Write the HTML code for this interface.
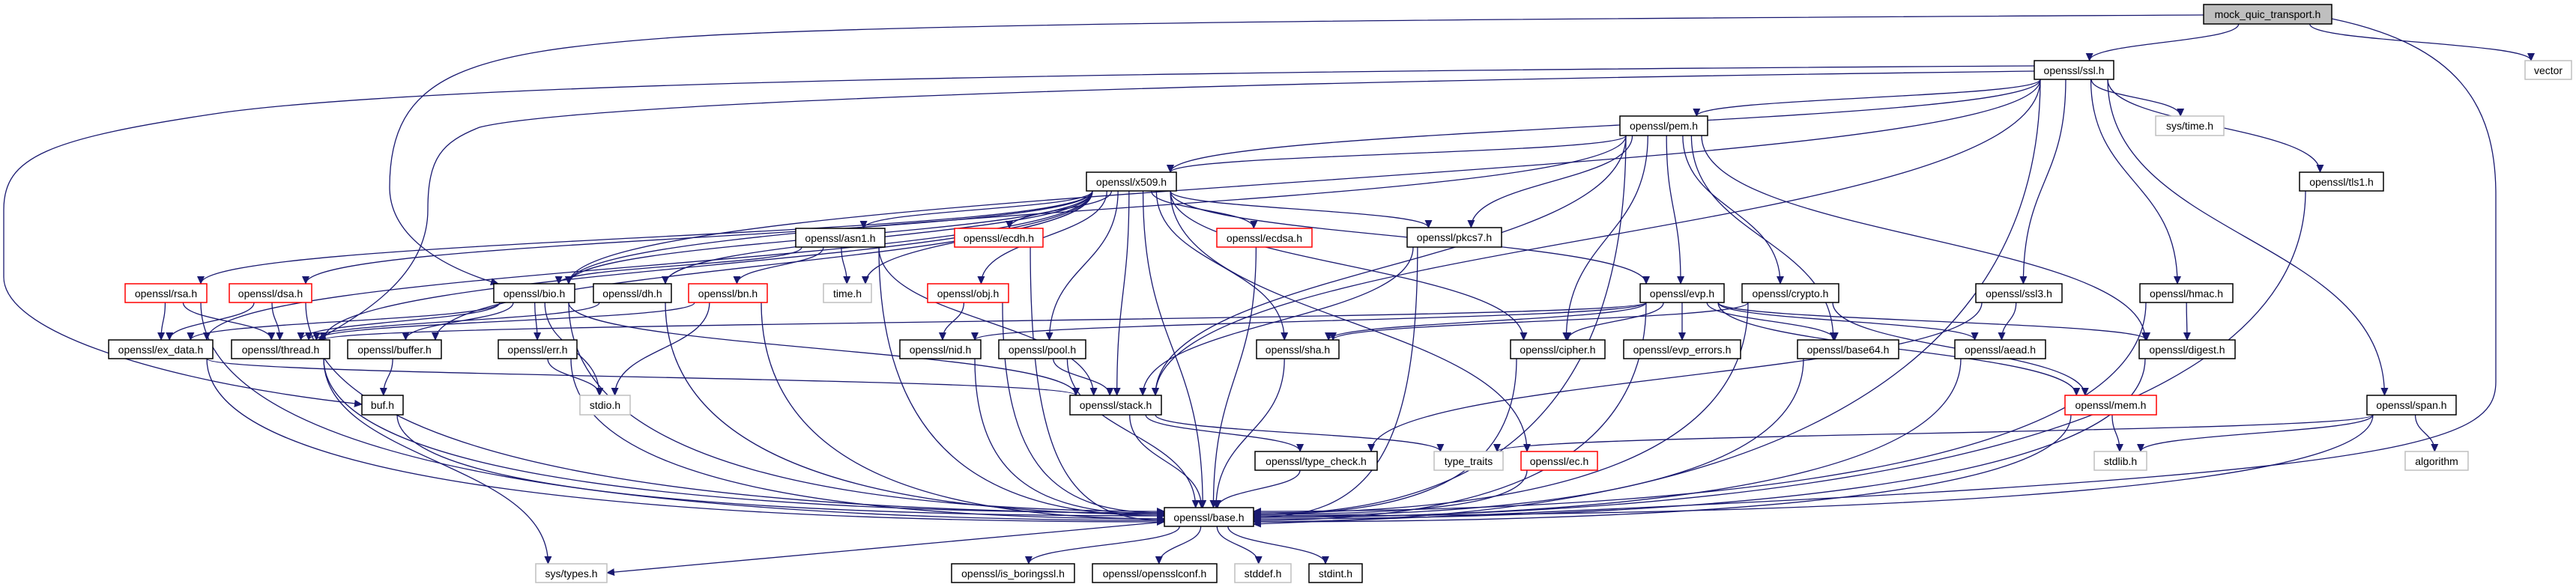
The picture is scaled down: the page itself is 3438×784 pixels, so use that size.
<!DOCTYPE html>
<html><head><meta charset="utf-8"><style>
html,body{margin:0;padding:0;background:#fff;}
svg{display:block;}
text{font-family:"Liberation Sans",sans-serif;font-size:14px;fill:#000;}
</style></head><body>
<svg id="g" width="3438" height="784" viewBox="0 0 3438 784" xmlns="http://www.w3.org/2000/svg">
<defs><marker id="ah" markerWidth="11" markerHeight="10" refX="10" refY="5" orient="auto" markerUnits="userSpaceOnUse"><path d="M0,0 L11,5 L0,10 z" fill="#191970"/></marker></defs>
<g id="edges" fill="none" stroke="#191970" stroke-width="1.3"></g>
<g id="nodes" stroke-width="1.5">
<rect x="2941" y="6" width="171" height="26" fill="#bfbfbf" stroke="#000"/><text x="3026.5" y="24" text-anchor="middle">mock_quic_transport.h</text>
<rect x="2715" y="81" width="106" height="25" fill="#fff" stroke="#000"/><text x="2768" y="99" text-anchor="middle">openssl/ssl.h</text>
<rect x="3370" y="81" width="62" height="25" fill="#fff" stroke="#bfbfbf"/><text x="3401" y="99" text-anchor="middle">vector</text>
<rect x="2162" y="155" width="117" height="26" fill="#fff" stroke="#000"/><text x="2220.5" y="173" text-anchor="middle">openssl/pem.h</text>
<rect x="2877" y="155" width="91" height="26" fill="#fff" stroke="#bfbfbf"/><text x="2922.5" y="173" text-anchor="middle">sys/time.h</text>
<rect x="1450" y="230" width="120" height="25" fill="#fff" stroke="#000"/><text x="1510" y="248" text-anchor="middle">openssl/x509.h</text>
<rect x="3069" y="230" width="112" height="25" fill="#fff" stroke="#000"/><text x="3125" y="248" text-anchor="middle">openssl/tls1.h</text>
<rect x="1062" y="305" width="119" height="25" fill="#fff" stroke="#000"/><text x="1121.5" y="323" text-anchor="middle">openssl/asn1.h</text>
<rect x="1274" y="305" width="118" height="25" fill="#fff" stroke="#f00"/><text x="1333" y="323" text-anchor="middle">openssl/ecdh.h</text>
<rect x="1624" y="305" width="127" height="25" fill="#fff" stroke="#f00"/><text x="1687.5" y="323" text-anchor="middle">openssl/ecdsa.h</text>
<rect x="1878" y="304" width="126" height="26" fill="#fff" stroke="#000"/><text x="1941" y="322" text-anchor="middle">openssl/pkcs7.h</text>
<rect x="167" y="379" width="109" height="25" fill="#fff" stroke="#f00"/><text x="221.5" y="397" text-anchor="middle">openssl/rsa.h</text>
<rect x="306" y="379" width="110" height="25" fill="#fff" stroke="#f00"/><text x="361" y="397" text-anchor="middle">openssl/dsa.h</text>
<rect x="659" y="379" width="108" height="25" fill="#fff" stroke="#000"/><text x="713" y="397" text-anchor="middle">openssl/bio.h</text>
<rect x="792" y="379" width="104" height="25" fill="#fff" stroke="#000"/><text x="844" y="397" text-anchor="middle">openssl/dh.h</text>
<rect x="919" y="379" width="105" height="25" fill="#fff" stroke="#f00"/><text x="971.5" y="397" text-anchor="middle">openssl/bn.h</text>
<rect x="1099" y="379" width="64" height="25" fill="#fff" stroke="#bfbfbf"/><text x="1131" y="397" text-anchor="middle">time.h</text>
<rect x="1238" y="379" width="108" height="25" fill="#fff" stroke="#f00"/><text x="1292" y="397" text-anchor="middle">openssl/obj.h</text>
<rect x="2189" y="379" width="112" height="25" fill="#fff" stroke="#000"/><text x="2245" y="397" text-anchor="middle">openssl/evp.h</text>
<rect x="2325" y="379" width="129" height="25" fill="#fff" stroke="#000"/><text x="2389.5" y="397" text-anchor="middle">openssl/crypto.h</text>
<rect x="2637" y="379" width="115" height="25" fill="#fff" stroke="#000"/><text x="2694.5" y="397" text-anchor="middle">openssl/ssl3.h</text>
<rect x="2856" y="379" width="124" height="25" fill="#fff" stroke="#000"/><text x="2918" y="397" text-anchor="middle">openssl/hmac.h</text>
<rect x="145" y="454" width="139" height="25" fill="#fff" stroke="#000"/><text x="214.5" y="472" text-anchor="middle">openssl/ex_data.h</text>
<rect x="309" y="454" width="131" height="25" fill="#fff" stroke="#000"/><text x="374.5" y="472" text-anchor="middle">openssl/thread.h</text>
<rect x="464" y="454" width="125" height="25" fill="#fff" stroke="#000"/><text x="526.5" y="472" text-anchor="middle">openssl/buffer.h</text>
<rect x="665" y="454" width="105" height="25" fill="#fff" stroke="#000"/><text x="717.5" y="472" text-anchor="middle">openssl/err.h</text>
<rect x="1201" y="454" width="108" height="25" fill="#fff" stroke="#000"/><text x="1255" y="472" text-anchor="middle">openssl/nid.h</text>
<rect x="1333" y="454" width="116" height="25" fill="#fff" stroke="#000"/><text x="1391" y="472" text-anchor="middle">openssl/pool.h</text>
<rect x="1677" y="454" width="110" height="25" fill="#fff" stroke="#000"/><text x="1732" y="472" text-anchor="middle">openssl/sha.h</text>
<rect x="2016" y="454" width="126" height="25" fill="#fff" stroke="#000"/><text x="2079" y="472" text-anchor="middle">openssl/cipher.h</text>
<rect x="2167" y="454" width="156" height="25" fill="#fff" stroke="#000"/><text x="2245" y="472" text-anchor="middle">openssl/evp_errors.h</text>
<rect x="2399" y="454" width="135" height="25" fill="#fff" stroke="#000"/><text x="2466.5" y="472" text-anchor="middle">openssl/base64.h</text>
<rect x="2609" y="454" width="121" height="25" fill="#fff" stroke="#000"/><text x="2669.5" y="472" text-anchor="middle">openssl/aead.h</text>
<rect x="2855" y="454" width="128" height="25" fill="#fff" stroke="#000"/><text x="2919" y="472" text-anchor="middle">openssl/digest.h</text>
<rect x="483" y="528" width="55" height="26" fill="#fff" stroke="#000"/><text x="510.5" y="546" text-anchor="middle">buf.h</text>
<rect x="774" y="528" width="67" height="26" fill="#fff" stroke="#bfbfbf"/><text x="807.5" y="546" text-anchor="middle">stdio.h</text>
<rect x="1428" y="528" width="122" height="26" fill="#fff" stroke="#000"/><text x="1489" y="546" text-anchor="middle">openssl/stack.h</text>
<rect x="2756" y="528" width="122" height="26" fill="#fff" stroke="#f00"/><text x="2817" y="546" text-anchor="middle">openssl/mem.h</text>
<rect x="3159" y="528" width="119" height="26" fill="#fff" stroke="#000"/><text x="3218.5" y="546" text-anchor="middle">openssl/span.h</text>
<rect x="1675" y="603" width="163" height="25" fill="#fff" stroke="#000"/><text x="1756.5" y="621" text-anchor="middle">openssl/type_check.h</text>
<rect x="1914" y="603" width="92" height="25" fill="#fff" stroke="#bfbfbf"/><text x="1960" y="621" text-anchor="middle">type_traits</text>
<rect x="2030" y="603" width="102" height="25" fill="#fff" stroke="#f00"/><text x="2081" y="621" text-anchor="middle">openssl/ec.h</text>
<rect x="2795" y="603" width="70" height="25" fill="#fff" stroke="#bfbfbf"/><text x="2830" y="621" text-anchor="middle">stdlib.h</text>
<rect x="3210" y="603" width="84" height="25" fill="#fff" stroke="#bfbfbf"/><text x="3252" y="621" text-anchor="middle">algorithm</text>
<rect x="1554" y="678" width="119" height="25" fill="#fff" stroke="#000"/><text x="1613.5" y="696" text-anchor="middle">openssl/base.h</text>
<rect x="1270" y="753" width="164" height="25" fill="#fff" stroke="#000"/><text x="1352" y="771" text-anchor="middle">openssl/is_boringssl.h</text>
<rect x="1458" y="753" width="166" height="25" fill="#fff" stroke="#000"/><text x="1541" y="771" text-anchor="middle">openssl/opensslconf.h</text>
<rect x="1648" y="753" width="75" height="25" fill="#fff" stroke="#bfbfbf"/><text x="1685.5" y="771" text-anchor="middle">stddef.h</text>
<rect x="1747" y="753" width="71" height="25" fill="#fff" stroke="#000"/><text x="1782.5" y="771" text-anchor="middle">stdint.h</text>
<rect x="715" y="753" width="95" height="25" fill="#fff" stroke="#bfbfbf"/><text x="762.5" y="771" text-anchor="middle">sys/types.h</text>
</g>
</svg>
<script>
var N={mock:[2941,3112,6,32],ssl:[2715,2821,81,106],vector:[3370,3432,81,106],pem:[2162,2279,155,181],systime:[2877,2968,155,181],x509:[1450,1570,230,255],tls1:[3069,3181,230,255],asn1:[1062,1181,305,330],ecdh:[1274,1392,305,330],ecdsa:[1624,1751,305,330],pkcs7:[1878,2004,304,330],rsa:[167,276,379,404],dsa:[306,416,379,404],bio:[659,767,379,404],dh:[792,896,379,404],bn:[919,1024,379,404],time:[1099,1163,379,404],obj:[1238,1346,379,404],evp:[2189,2301,379,404],crypto:[2325,2454,379,404],ssl3:[2637,2752,379,404],hmac:[2856,2980,379,404],exd:[145,284,454,479],thread:[309,440,454,479],buffer:[464,589,454,479],err:[665,770,454,479],nid:[1201,1309,454,479],pool:[1333,1449,454,479],sha:[1677,1787,454,479],cipher:[2016,2142,454,479],evperr:[2167,2323,454,479],b64:[2399,2534,454,479],aead:[2609,2730,454,479],digest:[2855,2983,454,479],buf:[483,538,528,554],stdio:[774,841,528,554],stack:[1428,1550,528,554],mem:[2756,2878,528,554],span:[3159,3278,528,554],tc:[1675,1838,603,628],tt:[1914,2006,603,628],ec:[2030,2132,603,628],stdlib:[2795,2865,603,628],alg:[3210,3294,603,628],base:[1554,1673,678,703],isb:[1270,1434,753,778],conf:[1458,1624,753,778],stddef:[1648,1723,753,778],stdint:[1747,1818,753,778],systypes:[715,810,753,778]};
var E={mock:['ssl','vector','base','bio'],ssl:['pem','x509','bio','thread','buf','systime','tls1','ssl3','hmac','span','base','stack'],pem:['x509','bio','stack','pkcs7','evp','cipher','crypto','b64','digest','base'],x509:['rsa','dsa','bio','thread','dh','asn1','time','ecdh','obj','pool','stack','base','ecdsa','sha','ec','pkcs7','cipher','evp','buffer','exd'],asn1:['bio','bn','time','stack','base'],rsa:['exd','thread','base'],dsa:['exd','thread','base'],bio:['thread','exd','buffer','err','stdio','stack','base'],dh:['thread','base'],bn:['thread','stdio','base'],ecdh:['base'],ecdsa:['base'],obj:['nid','base'],nid:['base'],pool:['stack','base'],sha:['base'],exd:['stack','base'],thread:['systypes','base'],buffer:['buf'],buf:['base'],err:['stdio','base'],stack:['tc','base','tt'],tc:['base'],ec:['base'],pkcs7:['stack','base'],evp:['thread','nid','sha','cipher','evperr','b64','aead','digest','mem','base'],crypto:['sha','mem','base'],cipher:['base'],b64:['base'],aead:['base'],digest:['base'],mem:['stdlib','base'],span:['tt','stdlib','alg','base'],tls1:['base'],ssl3:['aead','tc'],hmac:['digest','base'],base:['isb','conf','stddef','stdint','systypes']};
var O={
'mock>bio':'M2941,20 C2000,25 1200,30 900,50 C620,70 520,100 520,250 C520,320 600,360 665,379',
'mock>base':'M3112,25 C3280,60 3331,140 3331,260 L3331,510 C3331,600 3200,640 1673,700',
'ssl>buf':'M2715,88 C1500,95 600,110 300,150 C60,185 5,210 5,280 L5,370 C5,450 250,515 483,540',
'ssl>thread':'M2715,95 C1500,110 760,140 640,170 C590,190 571,210 571,280 C571,380 460,430 425,454',
'base>systypes':'M1554,697 L810,765'
};
var g=document.getElementById('edges'),s='',k=0;
function cl(v,a,b){return Math.max(a,Math.min(b,v));}
for(var a in E){var S=N[a];E[a].forEach(function(b){var T=N[b];k++;
var scx=(S[0]+S[1])/2,tcx=(T[0]+T[1])/2,dx=tcx-scx;
var sx=cl(scx+dx*0.15,S[0]+8,S[1]-8),sy=S[3],d,tx,ty;
if(O[a+'>'+b]){d=O[a+'>'+b];}
else if(b=='base'&&Math.abs(dx)>250){
 tx=dx>0?T[0]:T[1];ty=683+(k%8)*2;
 d='M'+sx+','+sy+' C'+sx+','+(sy+(ty-sy)*0.8)+' '+(tx-dx*0.45)+','+ty+' '+tx+','+ty;
}else{
 tx=cl(tcx-dx*0.08,T[0]+8,T[1]-8);ty=T[2];var m=(ty-sy)/2;
 d='M'+sx+','+sy+' C'+sx+','+(sy+m)+' '+tx+','+(ty-m)+' '+tx+','+ty;}
s+='<path d="'+d+'" marker-end="url(#ah)"/>';});}
g.innerHTML=s;
</script>
</body></html>
